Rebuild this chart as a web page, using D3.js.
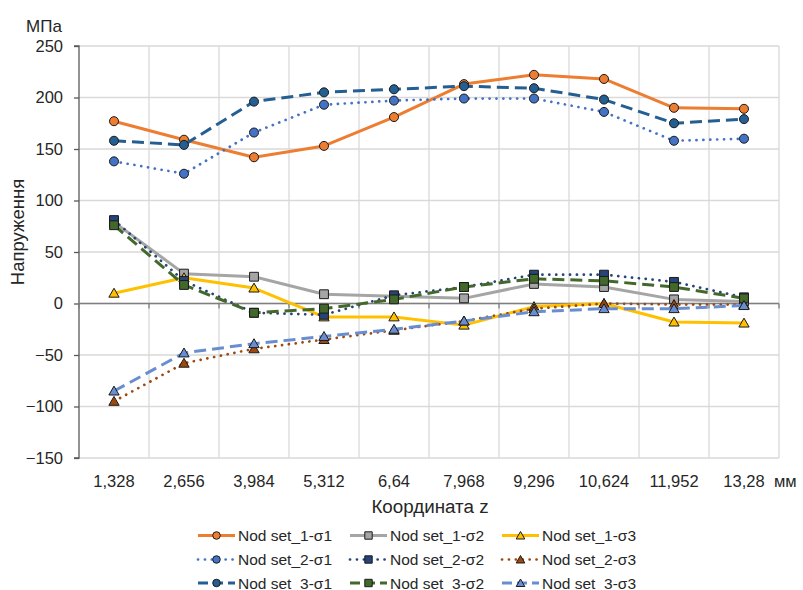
<!DOCTYPE html>
<html><head><meta charset="utf-8">
<script src="https://cdn.jsdelivr.net/npm/d3@7"></script>
<style>body{margin:0;background:#fff}svg{display:block;font-family:"Liberation Sans",Arial,sans-serif}</style>
</head><body><svg id="c" width="803" height="590"></svg>
<script>
const categories = ["1,328","2,656","3,984","5,312","6,64","7,968","9,296","10,624","11,952","13,28"];
const yTicks = [-150,-100,-50,0,50,100,150,200,250];
const seriesNames = ["Nod set_1-σ1","Nod set_1-σ2","Nod set_1-σ3","Nod set_2-σ1","Nod set_2-σ2","Nod set_2-σ3","Nod set_3-σ1","Nod set_3-σ2","Nod set_3-σ3"];
const s1_1 = [177,159,142,153,181,213,222,218,190,189];
const s1_2 = [79,29,26,9,7,5,19,16,4,2];
const s1_3 = [10,25,15,-13,-13,-21,-3,0,-18,-19];
const s2_1 = [138,126,166,193,197,199,199,186,158,160];
const s2_2 = [81,22,-9,-11,8,16,28,28,21,6];
const s2_3 = [-95,-58,-44,-35,-26,-17,-5,0,-1,-1];
const s3_1 = [158,154,196,205,208,211,209,198,175,179];
const s3_2 = [76,18,-9,-5,4,16,24,22,16,5];
const s3_3 = [-85,-48,-39,-32,-25,-17,-8,-5,-5,-2];
const seriesValues = [s1_1,s1_2,s1_3,s2_1,s2_2,s2_3,s3_1,s3_2,s3_3];

const styles = [
  {color:"#ED7D31", dash:null, marker:"circle", fill:"#ED7D31"},
  {color:"#A5A5A5", dash:null, marker:"square", fill:"#A5A5A5"},
  {color:"#FFC000", dash:null, marker:"triangle", fill:"#FFC000"},
  {color:"#4472C4", dash:"0.1,6.8", marker:"circle", fill:"#4472C4", w:2.7},
  {color:"#264478", dash:"0.1,6.8", marker:"square", fill:"#264478", w:2.7},
  {color:"#9E480E", dash:"0.1,6.8", marker:"triangle", fill:"#9E480E", w:2.7},
  {color:"#255E91", dash:"12,6", marker:"circle", fill:"#255E91"},
  {color:"#43682B", dash:"12,6", marker:"square", fill:"#43682B"},
  {color:"#698ED0", dash:"12,6", marker:"triangle", fill:"#698ED0"}
];

const svg = d3.select("#c");
const L=79, R=779, T=46, B=458;
const x = d3.scaleBand().domain(categories).range([L,R]).padding(0);
const y = d3.scaleLinear().domain([-150,250]).range([B,T]);
const cx = d => x(d)+x.bandwidth()/2;
const txt = "#262626";

// grid
const g = svg.append("g");
g.selectAll(".hg").data(yTicks).join("line")
  .attr("x1",L).attr("x2",R).attr("y1",d=>y(d)).attr("y2",d=>y(d))
  .attr("stroke","#D9D9D9").attr("stroke-width",1.3);
const bounds = categories.map(c=>x(c)).concat([R]);
g.selectAll(".vg").data(bounds.slice(1)).join("line")
  .attr("x1",d=>d).attr("x2",d=>d).attr("y1",T).attr("y2",B)
  .attr("stroke","#D9D9D9").attr("stroke-width",1.3);

// y axis
const ya = svg.append("g").attr("transform",`translate(${L},0)`)
  .call(d3.axisLeft(y).tickValues(yTicks).tickSize(5).tickPadding(11).tickFormat(d3.format("d")));
ya.select(".domain").attr("stroke","#595959").attr("stroke-width",1.3).attr("d",`M-5,${T}H0V${B}H-5`);
ya.selectAll(".tick line").attr("stroke","#595959").attr("stroke-width",1.3);
ya.selectAll(".tick text").attr("font-size",16.5).attr("fill",txt).attr("font-family","Liberation Sans, Arial, sans-serif");

// zero line with ticks
const zl = svg.append("g");
zl.append("line").attr("x1",L).attr("x2",R).attr("y1",y(0)).attr("y2",y(0)).attr("stroke","#7F7F7F").attr("stroke-width",1.5);
zl.selectAll(".zt").data(bounds).join("line")
  .attr("x1",d=>d).attr("x2",d=>d).attr("y1",y(0)).attr("y2",y(0)+5)
  .attr("stroke","#7F7F7F").attr("stroke-width",1.3);

// x labels
svg.append("g").selectAll("text").data(categories).join("text")
  .attr("x",d=>cx(d)).attr("y",486.5).attr("text-anchor","middle")
  .attr("font-size",16.5).attr("fill",txt).text(d=>d);
svg.append("text").attr("x",774).attr("y",486.5).attr("font-size",16.5).attr("fill",txt).text("мм");
svg.append("text").attr("x",26).attr("y",32).attr("font-size",17).attr("fill",txt).text("МПа");
svg.append("text").attr("x",430).attr("y",513).attr("text-anchor","middle").attr("font-size",18.8).attr("fill",txt).text("Координата z");
svg.append("text").attr("transform","translate(24,232) rotate(-90)").attr("text-anchor","middle").attr("font-size",18.5).attr("fill",txt).text("Напруження");

const sym = {circle:d3.symbolCircle, square:d3.symbolSquare, triangle:d3.symbolTriangle};
const symSize = {circle:64, square:78, triangle:46};
function drawMarker(sel, st, px, py, scale){
  const s = scale||1;
  sel.append("path").attr("d", d3.symbol().type(sym[st.marker]).size(symSize[st.marker]*s)())
    .attr("transform",`translate(${px},${py + (st.marker==="triangle"?1:0)})`)
    .attr("fill",st.fill).attr("stroke","#1a1a1a").attr("stroke-width",1);
}
const line = d3.line().x((d,i)=>cx(categories[i])).y(d=>y(d));
seriesValues.forEach((vals,k)=>{
  const st = styles[k];
  const sg = svg.append("g");
  sg.append("path").attr("d",line(vals)).attr("fill","none").attr("stroke",st.color)
    .attr("stroke-width",st.w||3).attr("stroke-linejoin","round")
    .attr("stroke-linecap",st.dash && st.dash.startsWith("0.1")?"round":"butt")
    .attr("stroke-dasharray",st.dash);
  vals.forEach((v,i)=>drawMarker(sg,st,cx(categories[i]),y(v)));
});

// legend
const colX = [198,350,502], rowY = [535.5,559.5,583];
seriesNames.forEach((n,k)=>{
  const st = styles[k];
  const lx = colX[k%3], ly = rowY[Math.floor(k/3)];
  const lg = svg.append("g");
  lg.append("line").attr("x1",lx).attr("x2",lx+37).attr("y1",ly).attr("y2",ly)
    .attr("stroke",st.color).attr("stroke-width",st.w||3)
    .attr("stroke-linecap",st.dash && st.dash.startsWith("0.1")?"round":"butt")
    .attr("stroke-dasharray",st.dash==="12,6"?"10,5":st.dash);
  drawMarker(lg,st,lx+18.5,ly,0.7);
  lg.append("text").attr("x",lx+40).attr("y",ly+5.5).attr("font-size",15.5).attr("fill",txt).text(n);
});
</script></body></html>
